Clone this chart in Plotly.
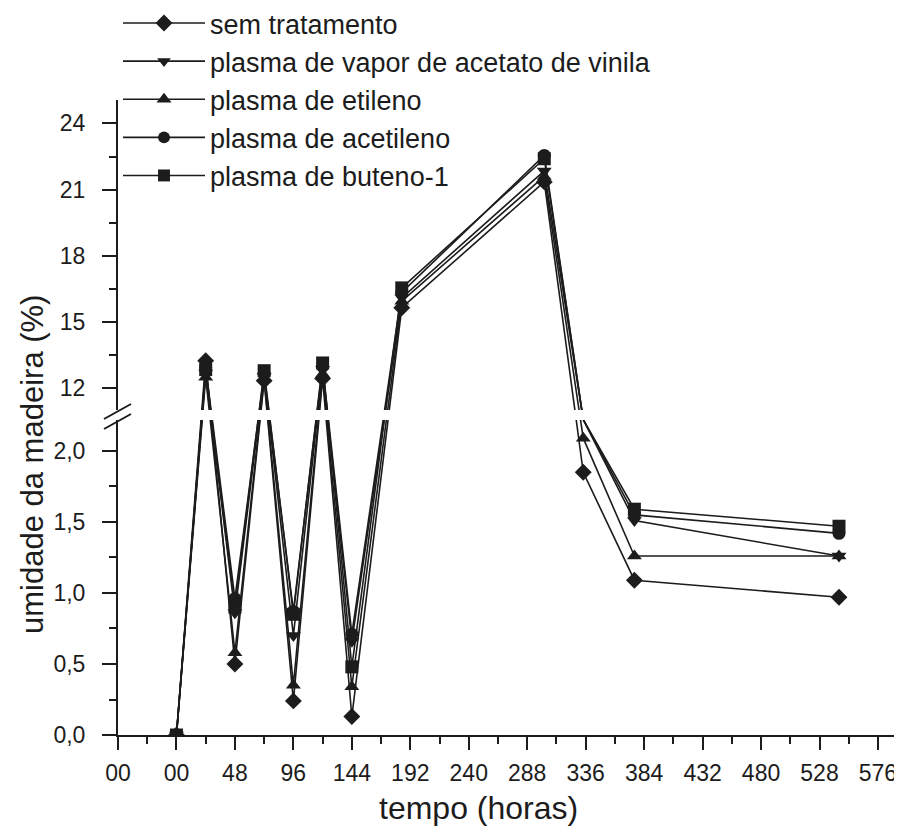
import plotly.graph_objects as go

# ---------------- data ----------------
hours = [0, 24, 48, 72, 96, 120, 144, 185, 302, 334, 376, 544]

series_names = [
    "sem tratamento",
    "plasma de vapor de acetato de vinila",
    "plasma de etileno",
    "plasma de acetileno",
    "plasma de buteno-1",
]
sem_tratamento = [0, 13.25, 0.50, 12.35, 0.24, 12.45, 0.13, 15.65, 21.35, 1.85, 1.09, 0.97]
vapor_acetato_vinila = [0, 12.70, 0.86, 12.55, 0.70, 12.85, 0.66, 16.10, 21.85, 2.50, 1.51, 1.26]
etileno = [0, 12.50, 0.58, 12.45, 0.35, 12.65, 0.34, 15.95, 21.60, 2.09, 1.26, 1.26]
acetileno = [0, 12.95, 0.96, 12.65, 0.87, 13.00, 0.71, 16.35, 22.55, 2.60, 1.55, 1.42]
buteno_1 = [0, 12.85, 0.90, 12.80, 0.85, 13.15, 0.48, 16.55, 22.40, 2.65, 1.59, 1.47]

x_tickvals = [-48, 0, 48, 96, 144, 192, 240, 288, 336, 384, 432, 480, 528, 576]
x_ticktext = ["00", "00", "48", "96", "144", "192", "240", "288", "336", "384",
              "432", "480", "528", "576"]
low_tickvals = [0.0, 0.5, 1.0, 1.5, 2.0]
low_ticktext = ["0,0", "0,5", "1,0", "1,5", "2,0"]
up_tickvals = [12, 15, 18, 21, 24]
up_ticktext = ["12", "15", "18", "21", "24"]

# ---------------- broken-axis scale ----------------
LOW_MAX = 2.218     # value at top of lower segment
UP_MIN = 11.02      # value at bottom of upper segment
UP_MAX = 25.06      # value at top of upper segment
GAP_T = 0.071       # size of the break in lower-segment units
UP_SCALE = 0.15554  # upper segment compression


def brk(v):
    if v <= LOW_MAX:
        return v
    if v >= UP_MIN:
        return LOW_MAX + GAP_T + (v - UP_MIN) * UP_SCALE
    return LOW_MAX + (v - LOW_MAX) / (UP_MIN - LOW_MAX) * GAP_T


def in_break(v):
    return LOW_MAX < v < UP_MIN


symbols = ["diamond", "triangle-down", "triangle-up", "circle", "square"]
all_series = [sem_tratamento, vapor_acetato_vinila, etileno, acetileno, buteno_1]

INK = "#1c1c1c"
FONT = "Liberation Sans, Arial, sans-serif"
MSIZE = 13

fig = go.Figure()
for name, vals, sym in zip(series_names, all_series, symbols):
    tv = [brk(v) for v in vals]
    sizes = [0 if in_break(v) else MSIZE for v in vals]  # points inside the break are hidden
    for yax, show in (("y", True), ("y2", False)):
        fig.add_trace(go.Scatter(
            x=hours, y=tv, name=name, yaxis=yax, showlegend=show,
            mode="lines+markers",
            line=dict(color=INK, width=1.6),
            marker=dict(symbol=sym, size=sizes, color=INK, opacity=1,
                        line=dict(width=0)),
        ))

# page body adds an 8px offset; target pixel positions are corrected for it
OFF = 8
FW, FH = 902 - OFF, 832 - OFF
L, R, T, B = 118 - OFF, 900 - OFF, 100 - OFF, 735 - OFF
W, H = R - L, B - T


def px(x):
    return (x - OFF - L) / W


def py(y):
    return (B - (y - OFF)) / H


low_top_px = 420
up_bot_px = 410

axis_common = dict(
    showgrid=False, zeroline=False, showline=True, linecolor=INK, linewidth=2,
    ticks="outside", tickcolor=INK, tickwidth=2,
    tickfont=dict(family=FONT, size=23, color=INK),
)

fig.update_layout(
    width=FW, height=FH,
    margin=dict(l=L, r=FW - R, t=T, b=FH - B, autoexpand=False),
    paper_bgcolor="white", plot_bgcolor="white",
    font=dict(family=FONT, color=INK),
    xaxis=dict(
        range=[-48, -48 + W / 1.2179], anchor="y",
        tickmode="array", tickvals=x_tickvals, ticktext=x_ticktext,
        ticklen=13, ticklabelstandoff=3,
        minor=dict(tickmode="array", tickvals=[v + 24 for v in x_tickvals],
                   ticklen=7, tickwidth=2, tickcolor=INK, ticks="outside"),
        **axis_common,
    ),
    yaxis=dict(
        domain=[0, py(low_top_px)], range=[0, brk(LOW_MAX)], anchor="x",
        tickmode="array", tickvals=[brk(v) for v in low_tickvals], ticktext=low_ticktext,
        ticklen=14, ticklabelstandoff=12,
        minor=dict(tickmode="array",
                   tickvals=[brk(v + 0.25) for v in low_tickvals[:-1]],
                   ticklen=7, tickwidth=2, tickcolor=INK, ticks="outside"),
        **axis_common,
    ),
    yaxis2=dict(
        domain=[py(up_bot_px), 1], range=[brk(UP_MIN), brk(UP_MAX)], anchor="x",
        tickmode="array", tickvals=[brk(v) for v in up_tickvals], ticktext=up_ticktext,
        ticklen=14, ticklabelstandoff=12,
        minor=dict(tickmode="array",
                   tickvals=[brk(v + 1.5) for v in up_tickvals],
                   ticklen=7, tickwidth=2, tickcolor=INK, ticks="outside"),
        **axis_common,
    ),
    legend=dict(
        x=px(118), y=py(-1), xanchor="left", yanchor="top",
        bgcolor="rgba(0,0,0,0)", tracegroupgap=0, itemwidth=82,
        font=dict(family=FONT, size=27, color=INK),
    ),
    annotations=[
        dict(text="tempo (horas)", xref="paper", yref="paper",
             x=px(478), y=py(808), xanchor="center", yanchor="middle",
             showarrow=False, font=dict(family=FONT, size=32, color=INK)),
        dict(text="umidade da madeira (%)", xref="paper", yref="paper",
             x=px(32), y=py(465), xanchor="center", yanchor="middle",
             textangle=-90, showarrow=False,
             font=dict(family=FONT, size=31, color=INK)),
    ],
    shapes=[
        dict(type="line", xref="paper", yref="paper",
             x0=px(104), y0=py(429), x1=px(131), y1=py(414),
             line=dict(color=INK, width=2)),
        dict(type="line", xref="paper", yref="paper",
             x0=px(104), y0=py(419), x1=px(131), y1=py(404),
             line=dict(color=INK, width=2)),
    ],
)

fig.write_html("out.html")
